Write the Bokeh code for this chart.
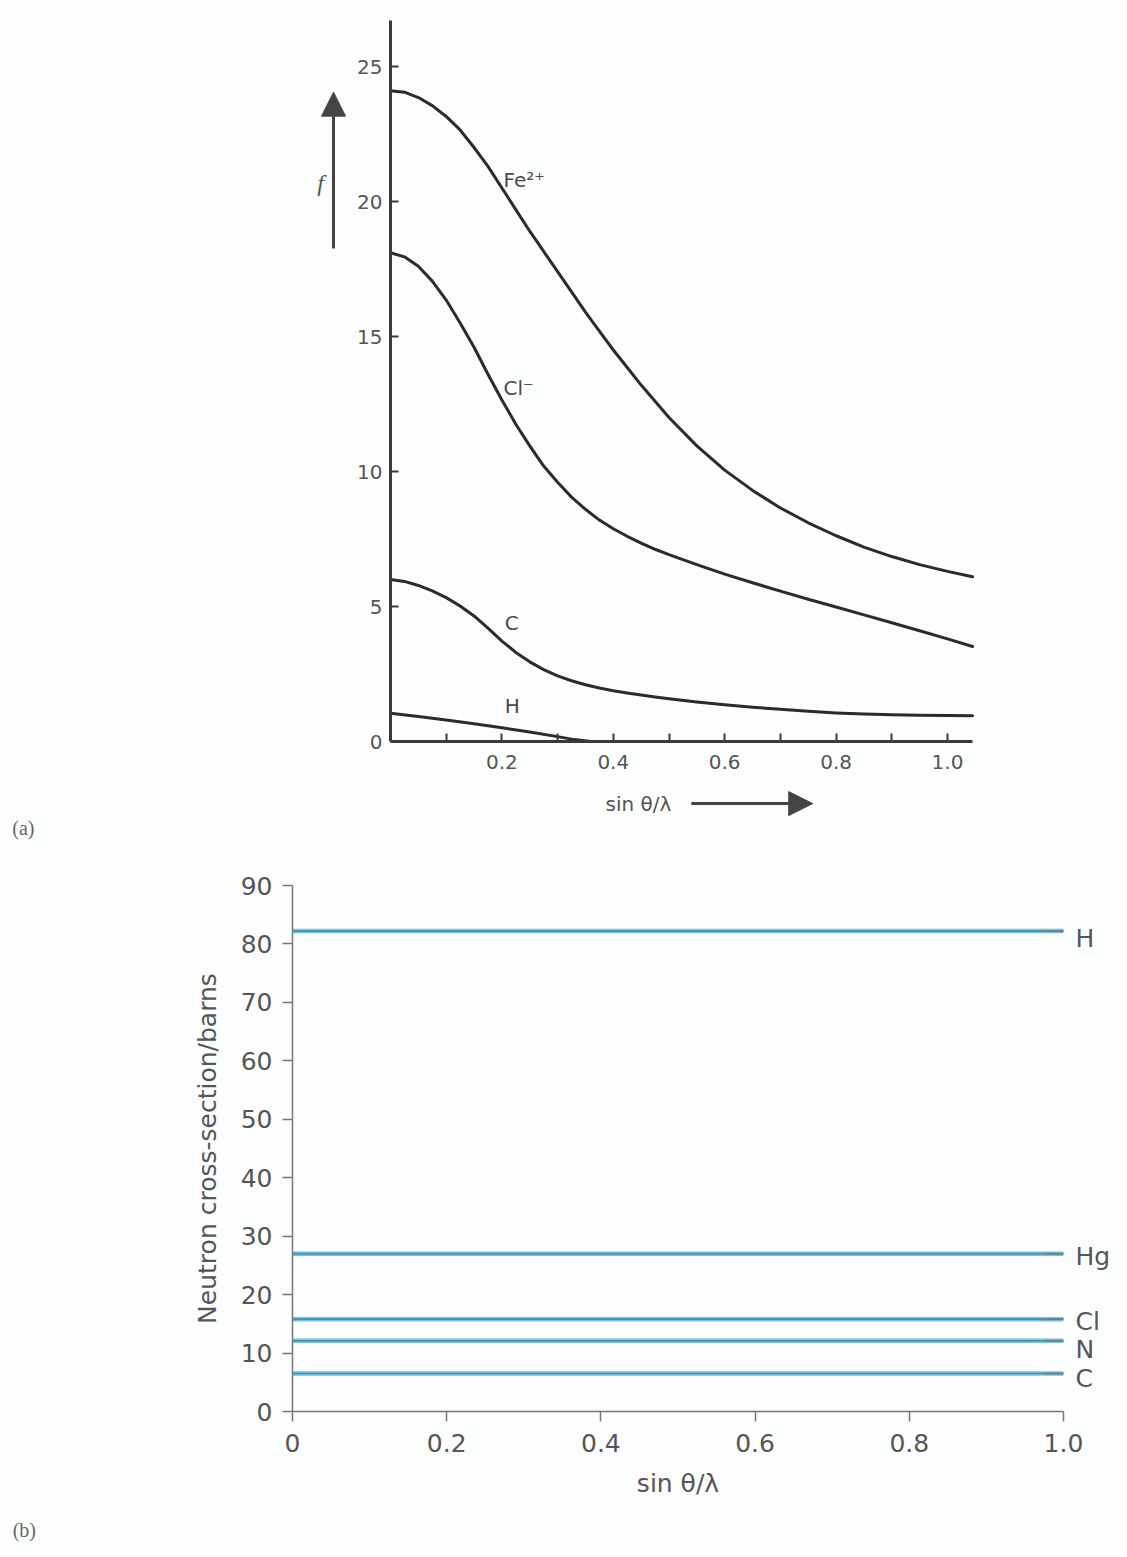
from bokeh.plotting import figure
from bokeh.layouts import column
from bokeh.models import FixedTicker, Label, Arrow, NormalHead, Range1d
from bokeh.embed import file_html
from bokeh.resources import INLINE

# ---------------- (a) X-ray scattering factor f ----------------
s_vals = [0.0, 0.025, 0.05, 0.075, 0.1, 0.125, 0.15, 0.175, 0.2, 0.225,
          0.25, 0.275, 0.3, 0.325, 0.35, 0.375, 0.4, 0.425, 0.45, 0.475,
          0.5, 0.55, 0.6, 0.65, 0.7, 0.75, 0.8, 0.85, 0.9, 0.95, 1.0, 1.045]
f_fe = [24.1, 24.05, 23.85, 23.55, 23.15, 22.65, 22.0, 21.3, 20.5, 19.7,
        18.9, 18.15, 17.4, 16.65, 15.9, 15.2, 14.5, 13.85, 13.2, 12.6,
        12.0, 10.95, 10.05, 9.3, 8.65, 8.1, 7.62, 7.2, 6.85, 6.55, 6.3, 6.1]
f_cl = [18.1, 17.95, 17.6, 17.05, 16.35, 15.5, 14.6, 13.6, 12.65, 11.75,
        10.95, 10.2, 9.6, 9.05, 8.6, 8.2, 7.88, 7.6, 7.35, 7.12,
        6.92, 6.55, 6.2, 5.88, 5.57, 5.27, 4.98, 4.69, 4.4, 4.1, 3.8, 3.52]
f_c = [6.0, 5.93, 5.78, 5.58, 5.33, 5.02, 4.65, 4.2, 3.72, 3.3,
       2.95, 2.66, 2.43, 2.25, 2.1, 1.98, 1.88, 1.8, 1.72, 1.65,
       1.58, 1.46, 1.36, 1.27, 1.19, 1.12, 1.06, 1.02, 0.99, 0.97, 0.96, 0.95]
s_h = [0.0, 0.05, 0.1, 0.15, 0.2, 0.25, 0.3, 0.33, 0.36]
f_h = [1.05, 0.93, 0.8, 0.66, 0.51, 0.35, 0.18, 0.07, 0.0]

a_xticks = [0.2, 0.4, 0.6, 0.8, 1.0]
a_xminor = [0.1, 0.3, 0.5, 0.7, 0.9]
a_xlabels = ["0.2", "0.4", "0.6", "0.8", "1.0"]
a_yticks = [0, 5, 10, 15, 20, 25]
a_ylabels = ["0", "5", "10", "15", "20", "25"]

# ---------------- (b) neutron scattering cross-sections ----------------
elements = ["H", "Hg", "Cl", "N", "C"]
cross_sections = [82.2, 27.0, 15.8, 12.1, 6.5]
b_xticks = [0, 0.2, 0.4, 0.6, 0.8, 1.0]
b_xlabels = ["0", "0.2", "0.4", "0.6", "0.8", "1.0"]
b_yticks = [0, 10, 20, 30, 40, 50, 60, 70, 80, 90]

BG = "#fcfdfd"
SANS = "DejaVu Sans"
SERIF = "Liberation Serif"
INK = "#2b2b2b"
TICK_TXT = "#555555"
W = 1127

# Both panels use the whole canvas as their frame; the axes sit at x=0 / y=0
# via fixed_location, so the margin annotations stay inside the frame.
HA, XA0, SA, YA0, TA = 840, 390.0, 557.0, 741.0, 27.0   # panel (a) geometry
HB, XB0, SB, YB0, TB = 717, 292.0, 771.0, 571.0, 5.844  # panel (b) geometry


def bare_figure(height, x0, sx, y0, sy):
    p = figure(width=W, height=height, output_backend="svg",
               toolbar_location=None,
               x_range=Range1d(-x0 / sx, (W - x0) / sx),
               y_range=Range1d(-(height - y0) / sy, y0 / sy),
               min_border=0, background_fill_color=BG, border_fill_color=BG)
    p.outline_line_color = None
    p.grid.visible = False
    p.frame_align = False
    p.xaxis.fixed_location = 0
    p.yaxis.fixed_location = 0
    return p


# ======================= figure (a) =======================
pa = bare_figure(HA, XA0, SA, YA0, TA)

for ax in (pa.xaxis[0], pa.yaxis[0]):
    ax.axis_line_color = "#3a3a3a"
    ax.axis_line_width = 3
    ax.major_tick_line_color = "#3a3a3a"
    ax.major_tick_line_width = 2
    ax.minor_tick_line_color = "#3a3a3a"
    ax.minor_tick_line_width = 2
    ax.major_tick_in = 8
    ax.major_tick_out = 0
    ax.minor_tick_in = 8
    ax.minor_tick_out = 0
    ax.major_label_text_font = SANS
    ax.major_label_text_font_size = "20px"
    ax.major_label_text_color = TICK_TXT

pa.xaxis.bounds = (0, 1.045)
pa.xaxis.ticker = FixedTicker(ticks=a_xticks, minor_ticks=a_xminor)
pa.xaxis.major_label_overrides = dict(zip(a_xticks, a_xlabels))
pa.xaxis.major_label_standoff = 13
pa.yaxis.bounds = (0, 26.7)
pa.yaxis.ticker = FixedTicker(ticks=a_yticks, minor_ticks=[])
pa.yaxis.major_label_overrides = dict(zip(a_yticks, a_ylabels))
pa.yaxis.major_label_standoff = 8

for ys in (f_fe, f_cl, f_c):
    pa.line(s_vals, ys, line_color=INK, line_width=3,
            line_join="round", line_cap="round")
pa.line(s_h, f_h, line_color=INK, line_width=3,
        line_join="round", line_cap="round")

curve_tags = [("Fe²⁺", 0.203, 20.8), ("Cl⁻", 0.203, 13.1),
              ("C", 0.205, 4.4), ("H", 0.205, 1.33)]
for txt, x, y in curve_tags:
    pa.add_layout(Label(x=x, y=y, text=txt, text_font=SANS,
                        text_font_size="20px", text_color="#4a4a4a",
                        text_baseline="middle", text_align="left"))

# ordinate symbol with upward arrow
pa.add_layout(Label(x=-0.1257, y=20.67, text="f", text_font=SERIF,
                    text_font_style="italic", text_font_size="24px",
                    text_color="#555555", text_baseline="middle",
                    text_align="center"))
pa.add_layout(Arrow(x_start=-0.1023, y_start=18.26, x_end=-0.1023, y_end=24.05,
                    line_color="#444444", line_width=3,
                    end=NormalHead(size=24, fill_color="#444444",
                                   line_color="#444444")))

# abscissa symbol with rightward arrow
pa.add_layout(Label(x=0.386, y=-2.3, text="sin θ/λ", text_font=SANS,
                    text_font_size="20px", text_color="#555555",
                    text_baseline="middle", text_align="left"))
pa.add_layout(Arrow(x_start=0.54, y_start=-2.3, x_end=0.758, y_end=-2.3,
                    line_color="#444444", line_width=3,
                    end=NormalHead(size=24, fill_color="#444444",
                                   line_color="#444444")))

pa.add_layout(Label(x=-0.679, y=-3.22, text="(a)", text_font=SERIF,
                    text_font_size="20px", text_color="#666666",
                    text_baseline="middle", text_align="left"))

# ======================= figure (b) =======================
pb = bare_figure(HB, XB0, SB, YB0, TB)

for ax in (pb.xaxis[0], pb.yaxis[0]):
    ax.axis_line_color = "#777777"
    ax.axis_line_width = 1.5
    ax.major_tick_line_color = "#777777"
    ax.major_tick_line_width = 1.5
    ax.major_tick_in = 0
    ax.major_tick_out = 10
    ax.minor_tick_line_color = None
    ax.major_label_text_font = SANS
    ax.major_label_text_font_size = "25px"
    ax.major_label_text_color = TICK_TXT
    ax.axis_label_text_font = SANS
    ax.axis_label_text_font_size = "25px"
    ax.axis_label_text_font_style = "normal"
    ax.axis_label_text_color = TICK_TXT

pb.xaxis.bounds = (0, 1.0)
pb.xaxis.ticker = FixedTicker(ticks=b_xticks, minor_ticks=[])
pb.xaxis.major_label_overrides = dict(zip(b_xticks, b_xlabels))
pb.xaxis.major_label_standoff = 12
pb.xaxis.axis_label = "sin θ/λ"
pb.xaxis.axis_label_standoff = 14

pb.yaxis.bounds = (0, 90)
pb.yaxis.ticker = FixedTicker(ticks=b_yticks, minor_ticks=[])
pb.yaxis.major_label_standoff = 10
pb.yaxis.axis_label = "Neutron cross-section/barns"
pb.yaxis.axis_label_standoff = 16

n = len(cross_sections)
pb.segment(x0=[0.0] * n, y0=cross_sections, x1=[1.0] * n, y1=cross_sections,
           line_color="#74c1e2", line_width=4.5)
pb.segment(x0=[0.0] * n, y0=cross_sections, x1=[0.975] * n, y1=cross_sections,
           line_color="#4a90b0", line_width=1.6)
pb.segment(x0=[0.975] * n, y0=cross_sections, x1=[1.0] * n, y1=cross_sections,
           line_color="#777777", line_width=1.8)

# element names just beyond the right end of each line
tag_drop = [1.2, 0.5, 0.35, 1.55, 0.85]
for name, v, d in zip(elements, cross_sections, tag_drop):
    pb.add_layout(Label(x=1.0156, y=v - d, text=name, text_font=SANS,
                        text_font_size="25px", text_color="#555555",
                        text_baseline="middle", text_align="left"))

pb.add_layout(Label(x=-0.363, y=-20.36, text="(b)", text_font=SERIF,
                    text_font_size="20px", text_color="#666666",
                    text_baseline="middle", text_align="left"))

layout = column(pa, pb)
open("out.html", "w").write(file_html(layout, INLINE))
